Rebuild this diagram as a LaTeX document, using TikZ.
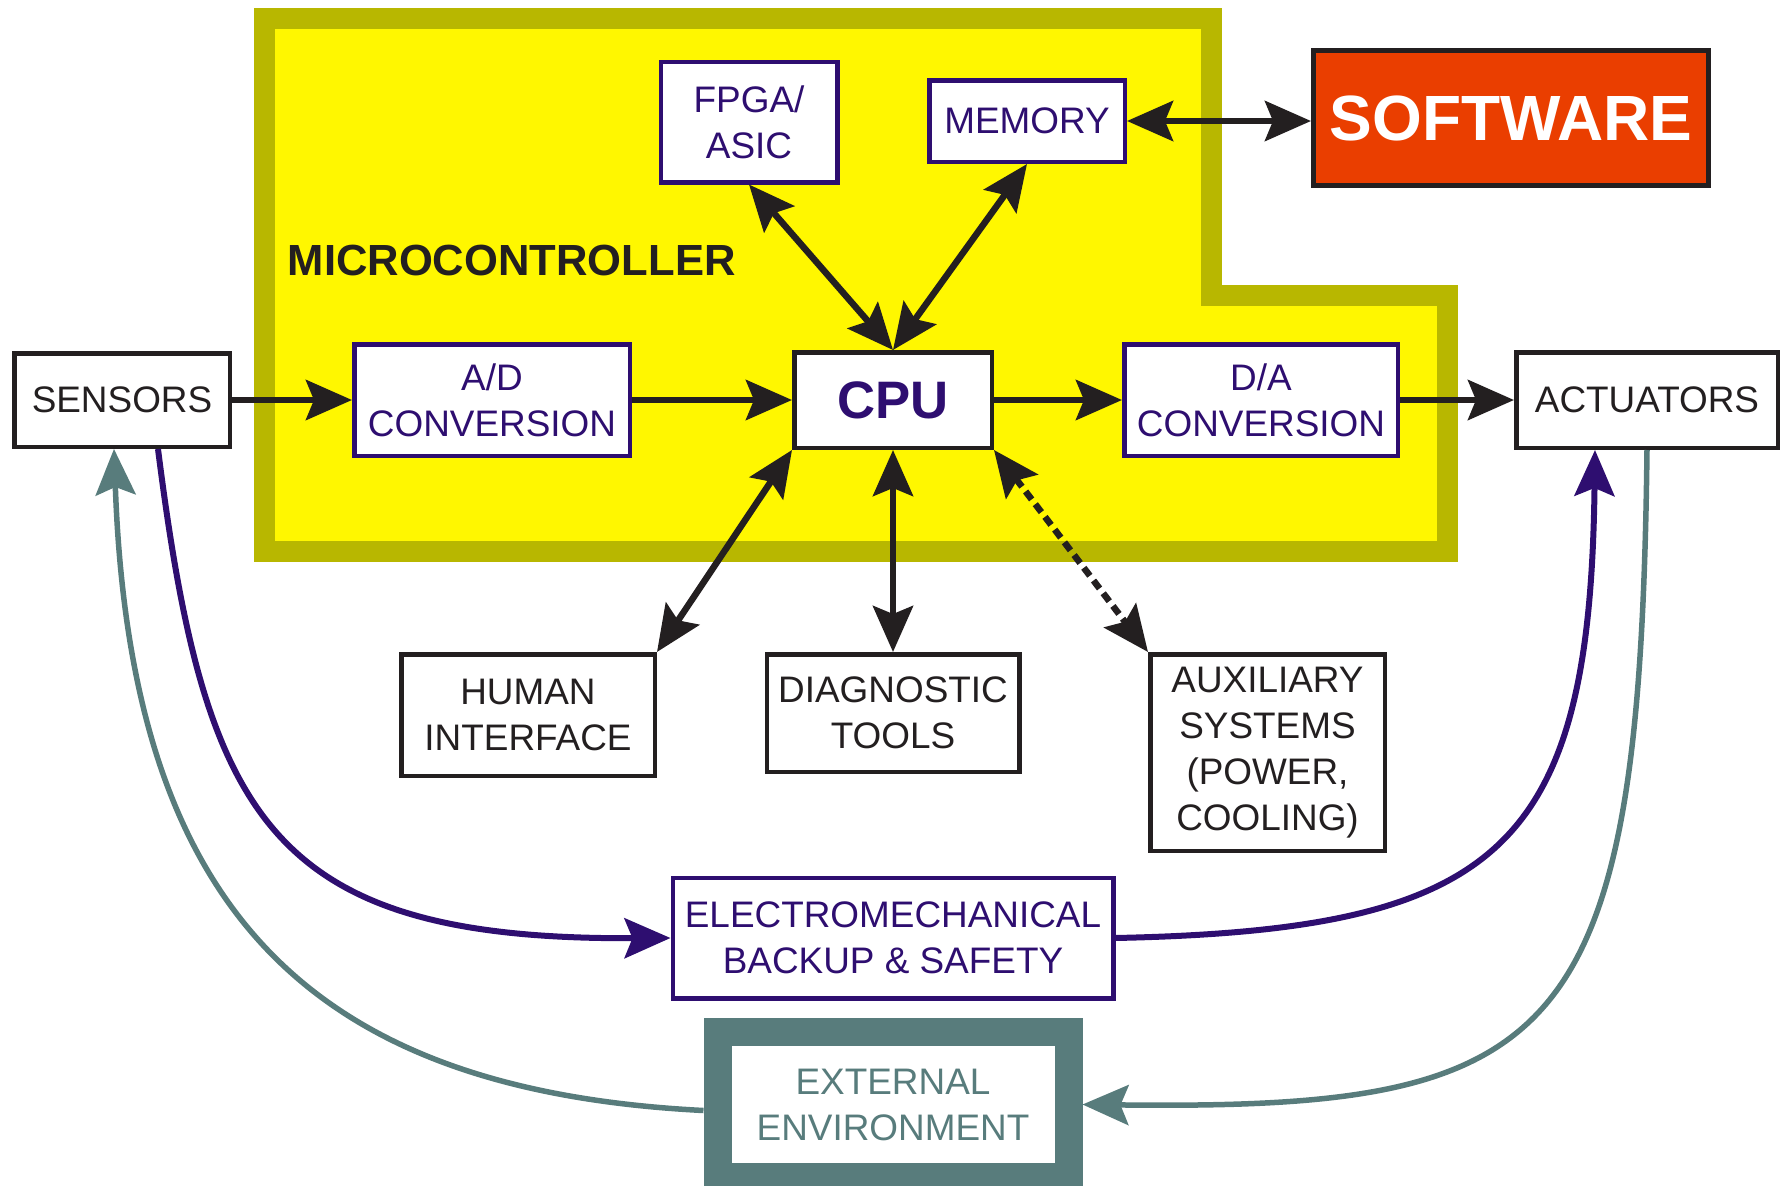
\documentclass[tikz,border=0pt]{standalone}
\usepackage{fontspec}
\setmainfont{Liberation Sans}
\usetikzlibrary{arrows.meta}
\definecolor{mcyellow}{RGB}{255,247,0}
\definecolor{mcolive}{RGB}{184,183,0}
\definecolor{mcpurple}{RGB}{46,14,112}
\definecolor{mcteal}{RGB}{88,124,124}
\definecolor{mcred}{RGB}{234,62,0}
\definecolor{mcblack}{RGB}{35,31,32}

\begin{document}
\begin{tikzpicture}[>={Stealth[length=4.6mm, width=4.0mm, inset=0.8mm]},
    every node/.style={font=\fontsize{10.5}{13.1}\selectfont},
    blk/.style={draw=mcblack, line width=0.45mm, fill=white, text=mcblack, align=center, inner sep=0pt},
    pblk/.style={blk, draw=mcpurple, text=mcpurple},
    flow/.style={->, line width=0.65mm, mcblack},
    link/.style={<->, line width=0.65mm, mcblack}]
  \useasboundingbox (0,0) rectangle (17.83,-11.86);

  % Microcontroller area
  \draw[fill=mcyellow, draw=mcolive, line width=2.1mm] (2.645,-0.185) -- (12.11,-0.185) -- (12.11,-2.955)
    -- (14.47,-2.955) -- (14.47,-5.515) -- (2.645,-5.515) -- cycle;
  \node[anchor=west, inner sep=0pt, font=\fontsize{12.4}{14}\selectfont\bfseries, text=mcblack] (mctitle) at (2.87,-2.60) {MICROCONTROLLER};

  % Signal chain
  \node[blk, minimum width=2.155cm, minimum height=0.935cm] (sensors) at (1.22,-4.00) {SENSORS};
  \node[pblk, minimum width=2.755cm, minimum height=1.115cm] (adconv) at (4.92,-4.00) {A/D\\CONVERSION};
  \node[blk, minimum width=1.975cm, minimum height=0.955cm, text=mcpurple, font=\fontsize{15}{17}\selectfont\bfseries] (cpu) at (8.93,-4.00) {CPU};
  \node[pblk, minimum width=2.735cm, minimum height=1.115cm] (daconv) at (12.61,-4.00) {D/A\\CONVERSION};
  \node[blk, minimum width=2.615cm, minimum height=0.955cm] (actuators) at (16.47,-4.00) {ACTUATORS};

  % Upper blocks
  \node[pblk, minimum width=1.765cm, minimum height=1.205cm] (fpga) at (7.49,-1.22) {FPGA/\\ASIC};
  \node[pblk, minimum width=1.955cm, minimum height=0.815cm] (memory) at (10.27,-1.21) {MEMORY};
  \node[blk, fill=mcred, line width=0.5mm, minimum width=3.95cm, minimum height=1.35cm, text=white,
    font=\fontsize{18.2}{20}\selectfont\bfseries] (software) at (15.11,-1.18) {SOFTWARE};

  % Lower blocks
  \node[blk, minimum width=2.535cm, minimum height=1.215cm] (human) at (5.28,-7.15) {HUMAN\\INTERFACE};
  \node[blk, minimum width=2.525cm, minimum height=1.175cm] (diag) at (8.93,-7.13) {DIAGNOSTIC\\TOOLS};
  \node[blk, minimum width=2.345cm, minimum height=1.965cm] (aux) at (12.675,-7.525) {AUXILIARY\\SYSTEMS\\(POWER,\\COOLING)};
  \node[pblk, minimum width=4.405cm, minimum height=1.205cm] (backup) at (8.93,-9.38) {ELECTROMECHANICAL\\BACKUP \& SAFETY};
  \node[blk, draw=mcteal, text=mcteal, line width=2.8mm, minimum width=3.51cm, minimum height=1.45cm] (extenv) at (8.93,-11.045) {EXTERNAL\\ENVIRONMENT};

  % Arrows
  \draw[flow] (sensors) -- (adconv);
  \draw[flow] (adconv) -- (cpu);
  \draw[flow] (cpu) -- (daconv);
  \draw[flow] (daconv) -- (actuators);
  \draw[link] (fpga.south) -- (cpu.north);
  \draw[link] (memory.south) -- (cpu.north);
  \draw[link] (memory.east) -- (memory.east -| software.west);
  \draw[link] (cpu.south west) -- (human.north east);
  \draw[link] (cpu.south) -- (diag.north);
  \draw[link, dash pattern=on 1mm off 0.6mm] (cpu.south east) -- (aux.north west);

  % Loops through backup and environment
  \draw[->, line width=0.6mm, mcpurple] ([xshift=3.6mm]sensors.south) .. controls (2.05,-8.2) and (2.7,-9.4) .. (backup.west);
  \draw[->, line width=0.6mm, mcpurple] (backup.east) .. controls (15.0,-9.3) and (15.9,-8.5) .. ([xshift=-5.2mm]actuators.south);
  \draw[->, line width=0.55mm, mcteal] (actuators.south) .. controls (16.4,-10.5) and (15.6,-11.1) .. (extenv.east);
  \draw[->, line width=0.55mm, mcteal] ([yshift=-0.6mm]extenv.west) .. controls (3.0,-10.9) and (1.3,-9.0) .. ([xshift=-0.8mm]sensors.south);
\end{tikzpicture}
\end{document}
